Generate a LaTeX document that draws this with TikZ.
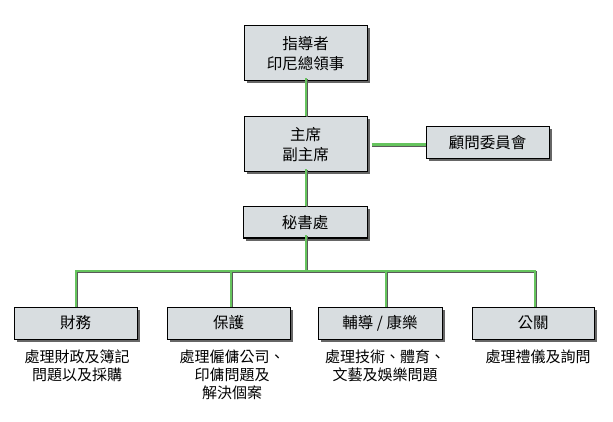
\documentclass[tikz,border=0pt]{standalone}
\usepackage{fontspec}
\setmainfont{Noto Sans CJK TC}
\usetikzlibrary{shadows}
\definecolor{boxfill}{HTML}{D8DDE0}
\definecolor{lnk}{HTML}{66C45E}
\tikzset{
  box/.style={draw=black, line width=1pt, fill=boxfill, inner sep=0pt, align=center,
    font=\fontsize{15.5}{20}\selectfont,
    drop shadow={shadow xshift=2.5pt, shadow yshift=-2.5pt, fill=black!75, opacity=0.8}},
  conn/.style={draw=lnk, line width=2.8pt,
    preaction={draw=black!65, line width=2.5pt, transform canvas={shift={(0.9pt,-0.9pt)}}}},
  captxt/.style={anchor=north, align=center, inner sep=0pt, font=\fontsize{15}{18}\selectfont}
}
\begin{document}
\begin{tikzpicture}[x=1pt,y=-1pt]
\useasboundingbox (0,0) rectangle (613,422);
\coordinate (j0) at (306,271);
\coordinate (bus1) at (76,271);
\coordinate (bus2) at (231,271);
\coordinate (bus3) at (386,271);
\coordinate (bus4) at (535,271);
% boxes
\node[box, minimum width=123pt, minimum height=55pt] (lead) at (305.5,53.5) {指導者\\印尼總領事};
\node[box, minimum width=123pt, minimum height=55pt] (chair) at (305.5,144.5) {主席\\副主席};
\node[box, minimum width=123pt, minimum height=32pt] (adv) at (487.5,143) {顧問委員會};
\node[box, minimum width=124pt, minimum height=31pt] (sec) at (305,222.5) {秘書處};
\node[box, minimum width=123pt, minimum height=32pt] (b1) at (75.5,323) {財務};
\node[box, minimum width=123pt, minimum height=32pt] (b2) at (228.5,323) {保護};
\node[box, minimum width=124pt, minimum height=32pt] (b3) at (380,323) {輔導 / 康樂};
\node[box, minimum width=122pt, minimum height=32pt] (b4) at (533,323) {公關};
% lines
\path[conn] ([yshift=3pt]lead.south -| j0) -- (chair.north -| j0);
\path[conn] ([xshift=4pt]chair.east) -- (adv.west |- chair.east);
\path[conn] ([yshift=3pt]chair.south -| j0) -- (sec.north -| j0);
\path[conn] ([yshift=3pt]sec.south -| j0) -- (j0);
\path[conn] (bus1 |- b1.north) -- (bus1) -- (bus4) -- (bus4 |- b4.north);
\path[conn] (bus2) -- (bus2 |- b2.north);
\path[conn] (bus3) -- (bus3 |- b3.north);
% captions
\node[captxt] (c1) at (77,350) {處理財政及簿記\\問題以及採購};
\node[captxt] (c2) at (232,350) {處理僱傭公司、\\印傭問題及\\解決個案};
\node[captxt] (c3) at (385,350) {處理技術、體育、\\文藝及娛樂問題};
\node[captxt] (c4) at (538,350) {處理禮儀及詢問};
\end{tikzpicture}
\end{document}
